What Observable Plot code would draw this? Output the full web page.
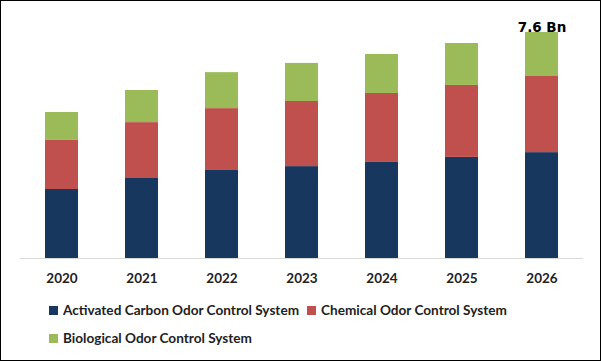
<!DOCTYPE html>
<html>
<head>
<meta charset="utf-8">
<script src="https://cdn.jsdelivr.net/npm/d3@7"></script>
<script src="https://cdn.jsdelivr.net/npm/@observablehq/plot@0.6"></script>
<style>
  html, body { margin: 0; padding: 0; background: #fff; }
  #frame { position: relative; width: 601px; height: 361px; box-sizing: border-box; border: 1px solid #000; overflow: hidden; background: #fff; }
  #chart { position: absolute; left: 0; top: 0; }
  .leg { position: absolute; font-family: Lato, "Open Sans", sans-serif; font-weight: 700; font-size: 13.6px; color: #222; white-space: nowrap; display: flex; align-items: center; }
  .sw { width: 9px; height: 9px; display: inline-block; margin-right: 5px; }
</style>
</head>
<body>
<div id="frame">
  <div id="chart"></div>
</div>
<script>
const years = ["2020", "2021", "2022", "2023", "2024", "2025", "2026"];
const seriesNames = ["Activated Carbon Odor Control System", "Chemical Odor Control System", "Biological Odor Control System"];
const seriesColors = ["#17375E", "#C0504D", "#9BBB59"];
const activated = [2.32, 2.69, 2.96, 3.09, 3.23, 3.40, 3.56];
const chemical = [1.65, 1.88, 2.08, 2.19, 2.32, 2.42, 2.56];
const biological = [0.94, 1.08, 1.21, 1.28, 1.31, 1.41, 1.48];
const endLabel = "7.6 Bn";

const seriesValues = [activated, chemical, biological];
const rows = [];
seriesNames.forEach((s, i) => years.forEach((y, j) => rows.push({year: y, series: s, value: seriesValues[i][j]})));
const totals = years.map((y, j) => ({year: y, total: activated[j] + chemical[j] + biological[j]}));
const lastTotal = [totals[totals.length - 1]];

const plot = Plot.plot({
  width: 599,
  height: 292,
  marginLeft: 19,
  marginRight: 17,
  marginTop: 31,
  marginBottom: 35,
  style: {fontFamily: "Lato, sans-serif", background: "transparent"},
  x: {domain: years, paddingInner: 0.59, paddingOuter: 0.295, label: null},
  y: {domain: [0, 7.6], axis: null},
  color: {domain: seriesNames, range: seriesColors},
  marks: [
    Plot.barY(rows, {x: "year", y: "value", fill: "series", order: seriesNames}),
    Plot.ruleY([0], {stroke: "#D9D9D9", strokeWidth: 1}),
    Plot.axisX({tickSize: 0, tickPadding: 15, fontSize: 13.5, fontWeight: 700, fill: "#222", label: null}),
    Plot.text(lastTotal, {x: "year", y: "total", text: () => endLabel, lineAnchor: "bottom", dy: -1, fontFamily: "DejaVu Sans", fontWeight: 700, fontSize: 13.5, fill: "#000"})
  ]
});
document.getElementById("chart").appendChild(plot);

const legendPos = [{left: 48, top: 301}, {left: 306, top: 301}, {left: 48, top: 329}];
const frame = document.getElementById("frame");
seriesNames.forEach((s, i) => {
  const d = document.createElement("div");
  d.className = "leg";
  d.style.left = legendPos[i].left + "px";
  d.style.top = legendPos[i].top + "px";
  const sw = document.createElement("span");
  sw.className = "sw";
  sw.style.background = seriesColors[i];
  d.appendChild(sw);
  d.appendChild(document.createTextNode(s));
  frame.appendChild(d);
});
</script>
</body>
</html>
